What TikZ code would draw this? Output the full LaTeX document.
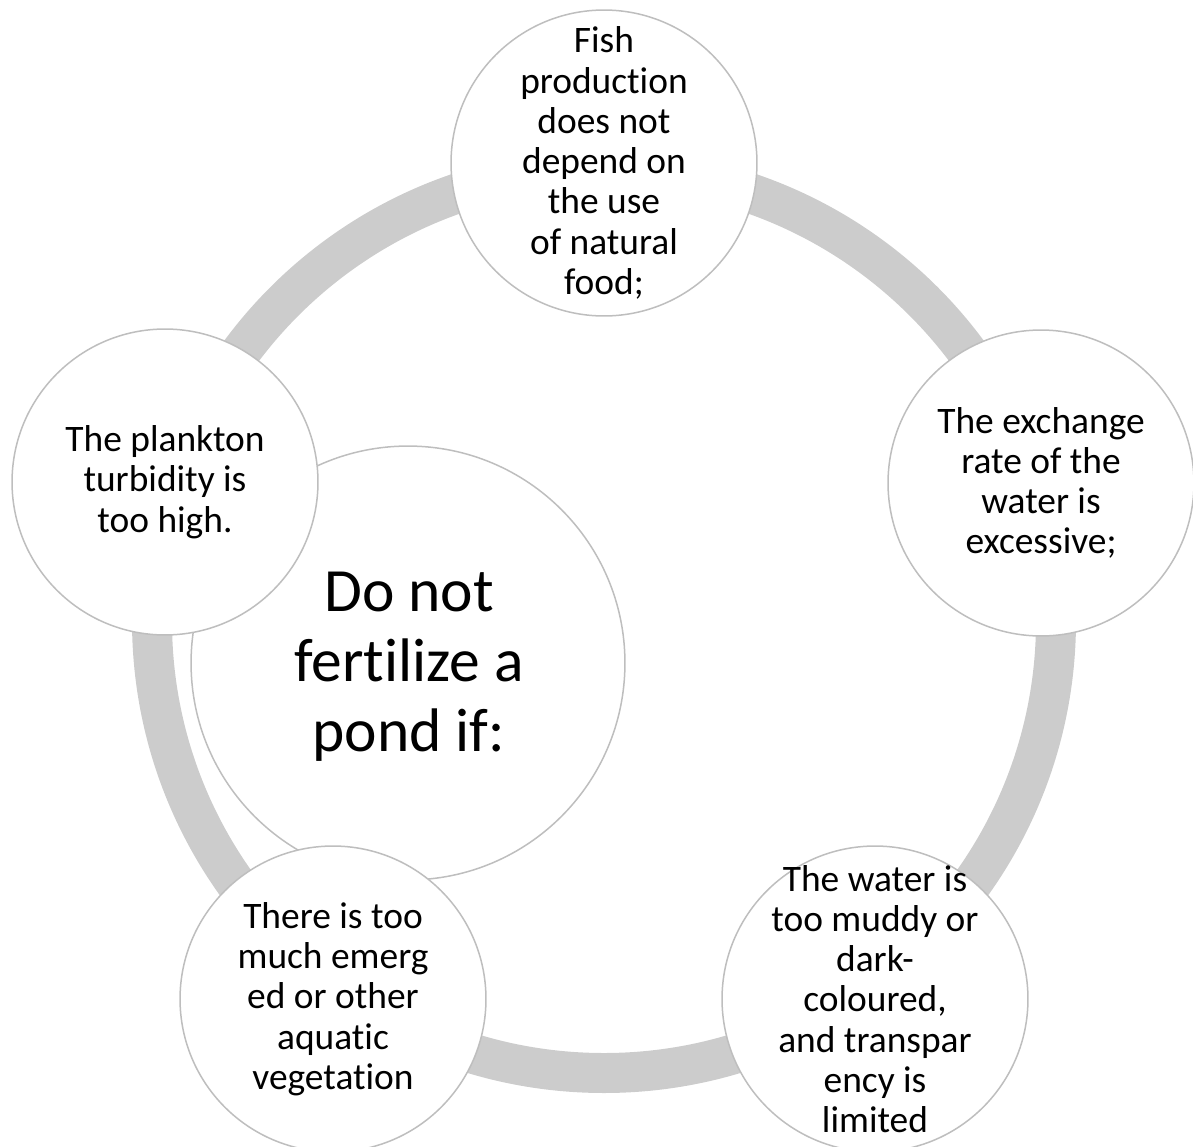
\documentclass[tikz,border=0pt]{standalone}
\usepackage{fontspec}
\setmainfont{Carlito}[Ligatures=CommonOff]
\usepackage{tikz}
\definecolor{ringgray}{RGB}{204,204,204}
\definecolor{edgegray}{RGB}{190,190,190}
\tikzset{
  bubble/.style={circle, draw=edgegray, line width=0.03cm, fill=white, minimum size=6.12cm, inner sep=0pt},
  bubbletext/.style={align=center, inner sep=0pt, font=\fontsize{21.3pt}{22.9pt}\selectfont},
  hubtext/.style={align=center, inner sep=0pt, font=\fontsize{35pt}{39.8pt}\selectfont}
}
\begin{document}
\begin{tikzpicture}[x=0.02cm, y=-0.02cm]
  \useasboundingbox (0,0) rectangle (1193,1146);

  \coordinate (hub) at (604,621);
  \draw[ringgray, line width=0.8cm] (hub) circle (452);

  \node[bubble, minimum size=8.68cm] (pond) at (408,663) {};
  \node[hubtext] (pond-t) at (409,667) {Do not\\fertilize a\\pond if:};

  \node[bubble] (fish) at (604,163) {};
  \node[bubbletext] (fish-t) at (fish) {Fish\\production\\does not\\depend on\\the use\\of natural\\food;};

  \node[bubble] (exchange) at (1041,483) {};
  \node[bubbletext] (exchange-t) at (exchange) {The exchange\\rate of the\\water is\\excessive;};

  \node[bubble] (water) at (875,999) {};
  \node[bubbletext] (water-t) at (water) {The water is\\too muddy or\\dark-\\coloured,\\and transpar\\ency is\\limited};

  \node[bubble] (emerged) at (333,999) {};
  \node[bubbletext] (emerged-t) at (emerged) {There is too\\much emerg\\ed or other\\aquatic\\vegetation};

  \node[bubble] (plankton) at (165,482) {};
  \node[bubbletext] (plankton-t) at (plankton) {The plankton\\turbidity is\\too high.};
\end{tikzpicture}
\end{document}
